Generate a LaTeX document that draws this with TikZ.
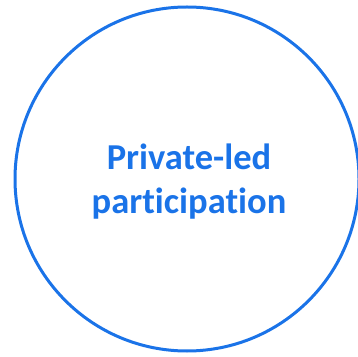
\documentclass[tikz,border=0pt]{standalone}
\usepackage{fontspec}
\setmainfont{Carlito}[Ligatures=NoCommon]
\definecolor{ringblue}{HTML}{1A73E8}
\begin{document}
\begin{tikzpicture}[x=1pt,y=1pt,
  ring/.style={draw=ringblue, line width=3pt, circle, minimum size=344pt, inner sep=0pt},
  label/.style={text=ringblue, font=\fontsize{36.5}{44}\selectfont\bfseries, align=center}]
\useasboundingbox (0,0) rectangle (358,356);
\node[ring] (c) at (187,177) {};
\node[label] (t) at (189,174) {Private-led\\participation};
\end{tikzpicture}
\end{document}
